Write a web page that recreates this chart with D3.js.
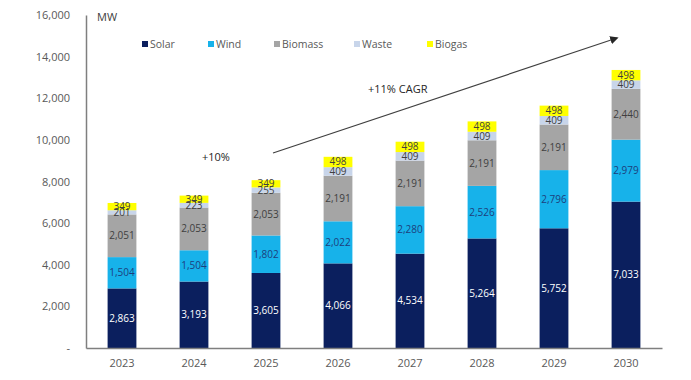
<!DOCTYPE html>
<html>
<head>
<meta charset="utf-8">
<script src="https://cdn.jsdelivr.net/npm/d3@7"></script>
<style>
  body { margin: 0; background: #fff; }
  text { font-family: "Open Sans", "Liberation Sans", sans-serif; }
</style>
</head>
<body>
<div id="chart"></div>
<script>
// capacity by source, MW
const years = ["2023", "2024", "2025", "2026", "2027", "2028", "2029", "2030"];
const solar = [2863, 3193, 3605, 4066, 4534, 5264, 5752, 7033];
const wind = [1504, 1504, 1802, 2022, 2280, 2526, 2796, 2979];
const biomass = [2051, 2053, 2053, 2191, 2191, 2191, 2191, 2440];
const waste = [201, 223, 255, 409, 409, 409, 409, 409];
const biogas = [349, 349, 349, 498, 498, 498, 498, 498];
const seriesNames = ["Solar", "Wind", "Biomass", "Waste", "Biogas"];
const yTicks = [0, 2000, 4000, 6000, 8000, 10000, 12000, 14000, 16000];

const colors = {Solar: "#0b1f5e", Wind: "#17b2ea", Biomass: "#a5a5a5", Waste: "#c8d5ea", Biogas: "#ffff00"};
const labelColors = {Solar: "#ffffff", Wind: "#1d3f7d", Biomass: "#3f3f3f", Waste: "#3f3f3f", Biogas: "#3f3f3f"};

const width = 691, height = 380;
const margin = {top: 15, left: 86, right: 29, bottom: 32};

const rows = years.map((y, i) => ({
  year: y, Solar: solar[i], Wind: wind[i], Biomass: biomass[i], Waste: waste[i], Biogas: biogas[i]
}));
const stacked = d3.stack().keys(seriesNames)(rows);

const svg = d3.select("#chart").append("svg")
  .attr("width", width)
  .attr("height", height);

const x = d3.scaleBand()
  .domain(years)
  .range([margin.left, width - margin.right])
  .paddingInner(0.6)
  .paddingOuter(0.3);

const y = d3.scaleLinear()
  .domain([0, 16000])
  .range([height - margin.bottom, margin.top]);

// bars
const groups = svg.selectAll("g.series")
  .data(stacked)
  .enter().append("g")
  .attr("class", "series")
  .attr("fill", d => colors[d.key]);

groups.selectAll("rect")
  .data(d => d)
  .enter().append("rect")
  .attr("x", d => x(d.data.year))
  .attr("y", d => y(d[1]))
  .attr("width", x.bandwidth())
  .attr("height", d => y(d[0]) - y(d[1]));

// segment labels
stacked.forEach(s => {
  svg.append("g").selectAll("text")
    .data(s)
    .enter().append("text")
    .attr("x", d => x(d.data.year) + x.bandwidth() / 2)
    .attr("y", d => (y(d[0]) + y(d[1])) / 2)
    .attr("dy", "0.35em")
    .attr("text-anchor", "middle")
    .attr("font-size", 10)
    .attr("fill", labelColors[s.key])
    .text(d => d3.format(",")(d[1] - d[0]));
});

// axes
const yAxis = svg.append("g")
  .attr("transform", `translate(${margin.left},0)`)
  .call(d3.axisLeft(y).tickValues(yTicks).tickSize(0).tickPadding(16)
    .tickFormat(d => d === 0 ? "-" : d3.format(",")(d)));
yAxis.select(".domain").attr("stroke", "#7f7f7f").attr("stroke-width", 1.5);
yAxis.selectAll("text").attr("font-size", 11).attr("fill", "#595959")
  .attr("font-family", "'Open Sans', sans-serif");

const xAxis = svg.append("g")
  .attr("transform", `translate(0,${height - margin.bottom})`)
  .call(d3.axisBottom(x).tickSize(0).tickPadding(11));
xAxis.select(".domain").attr("stroke", "#7f7f7f").attr("stroke-width", 1.5);
xAxis.selectAll("text").attr("font-size", 11).attr("fill", "#595959")
  .attr("font-family", "'Open Sans', sans-serif");

svg.append("text")
  .attr("x", 97).attr("y", 21)
  .attr("font-size", 11).attr("fill", "#404040")
  .text("MW");

// legend
const legendX = [142, 208, 274, 354, 427];
const legend = svg.append("g");
seriesNames.forEach((name, i) => {
  legend.append("rect")
    .attr("x", legendX[i]).attr("y", 41)
    .attr("width", 6).attr("height", 6)
    .attr("fill", colors[name]);
  legend.append("text")
    .attr("x", legendX[i] + 8).attr("y", 44)
    .attr("dy", "0.35em")
    .attr("font-size", 10.5).attr("fill", "#595959")
    .text(name);
});

// growth arrow
svg.append("defs").append("marker")
  .attr("id", "arrow")
  .attr("viewBox", "0 0 10 10")
  .attr("refX", 8).attr("refY", 5)
  .attr("markerWidth", 7).attr("markerHeight", 7)
  .attr("orient", "auto")
  .append("path")
  .attr("d", "M0,0 L10,5 L0,10 z")
  .attr("fill", "#262626");

svg.append("line")
  .attr("x1", 273).attr("y1", 153)
  .attr("x2", 617).attr("y2", 38)
  .attr("stroke", "#404040")
  .attr("stroke-width", 1.2)
  .attr("marker-end", "url(#arrow)");

svg.append("text")
  .attr("x", 368).attr("y", 93)
  .attr("font-size", 11).attr("fill", "#262626")
  .text("+11% CAGR");

svg.append("text")
  .attr("x", 202).attr("y", 161)
  .attr("font-size", 11).attr("fill", "#262626")
  .text("+10%");
</script>
</body>
</html>
